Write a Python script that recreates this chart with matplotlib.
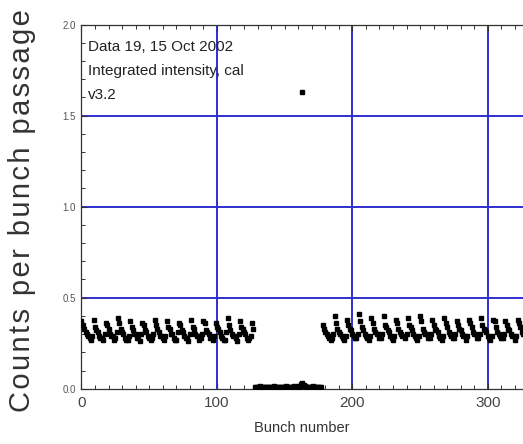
import numpy as np
import matplotlib
matplotlib.use("Agg")
import matplotlib.pyplot as plt
from matplotlib.ticker import MultipleLocator

# ---- data ----
g1_start = 0
g1_values = [
    0.37, 0.35, 0.33, 0.31, 0.30, 0.29, 0.28, 0.27, 0.29,
    0.38, 0.34, 0.32, 0.31, 0.29, 0.28, 0.28, 0.27, 0.30,
    0.36, 0.35, 0.33, 0.30, 0.29, 0.29, 0.27, 0.28, 0.31,
    0.39, 0.36, 0.33, 0.31, 0.30, 0.28, 0.27, 0.27, 0.29,
    0.37, 0.34, 0.32, 0.30, 0.30, 0.28, 0.28, 0.26, 0.30,
    0.36, 0.35, 0.32, 0.31, 0.29, 0.28, 0.27, 0.28, 0.30,
    0.38, 0.35, 0.33, 0.31, 0.29, 0.29, 0.28, 0.27, 0.29,
    0.37, 0.34, 0.33, 0.30, 0.30, 0.28, 0.27, 0.27, 0.31,
    0.36, 0.35, 0.32, 0.31, 0.29, 0.28, 0.28, 0.26, 0.30,
    0.38, 0.34, 0.33, 0.30, 0.29, 0.29, 0.27, 0.28, 0.30,
    0.37, 0.36, 0.32, 0.31, 0.30, 0.28, 0.28, 0.27, 0.29,
    0.36, 0.34, 0.33, 0.31, 0.29, 0.28, 0.27, 0.27, 0.31,
    0.39, 0.35, 0.32, 0.30, 0.29, 0.29, 0.28, 0.26, 0.30,
    0.37, 0.34, 0.33, 0.31, 0.30, 0.28, 0.27, 0.28, 0.29,
    0.36, 0.33,
]

gap_start = 128
gap_values = [
    0.010, 0.012, 0.011, 0.010, 0.013, 0.011, 0.012, 0.010, 0.011, 0.012,
    0.011, 0.010, 0.012, 0.011, 0.013, 0.010, 0.011, 0.012, 0.011, 0.010,
    0.012, 0.011, 0.010, 0.013, 0.012, 0.011, 0.010, 0.012, 0.011, 0.013,
    0.012, 0.011, 0.014, 0.012, 0.025, 0.030, 0.022, 0.013, 0.012, 0.011,
    0.010, 0.012, 0.011, 0.013, 0.010, 0.011, 0.012, 0.011, 0.010, 0.012,
]

g2_start = 178
g2_values = [
    0.35, 0.33, 0.31, 0.30, 0.29, 0.28, 0.27, 0.28, 0.30,
    0.40, 0.36, 0.33, 0.31, 0.30, 0.29, 0.28, 0.27, 0.29,
    0.38, 0.35, 0.33, 0.32, 0.30, 0.29, 0.28, 0.28, 0.30,
    0.41, 0.37, 0.34, 0.32, 0.30, 0.29, 0.28, 0.27, 0.29,
    0.39, 0.36, 0.33, 0.31, 0.30, 0.30, 0.28, 0.28, 0.30,
    0.40, 0.35, 0.34, 0.32, 0.31, 0.29, 0.28, 0.27, 0.29,
    0.38, 0.36, 0.33, 0.31, 0.30, 0.29, 0.29, 0.28, 0.30,
    0.39, 0.35, 0.34, 0.32, 0.30, 0.29, 0.28, 0.27, 0.29,
    0.40, 0.37, 0.33, 0.31, 0.30, 0.30, 0.28, 0.28, 0.30,
    0.38, 0.35, 0.33, 0.32, 0.31, 0.29, 0.28, 0.27, 0.29,
    0.39, 0.36, 0.34, 0.31, 0.30, 0.29, 0.28, 0.28, 0.30,
    0.37, 0.35, 0.33, 0.32, 0.30, 0.29, 0.29, 0.27, 0.29,
    0.38, 0.36, 0.34, 0.31, 0.30, 0.30, 0.28, 0.28, 0.30,
    0.39, 0.35, 0.33, 0.32, 0.31, 0.29, 0.28, 0.27, 0.29,
    0.38, 0.37, 0.34, 0.31, 0.30, 0.29, 0.28, 0.28, 0.30,
    0.37, 0.35, 0.33, 0.32, 0.30, 0.29, 0.29, 0.27, 0.29,
    0.38, 0.36, 0.34, 0.31, 0.30, 0.30, 0.28, 0.28, 0.30,
]

outlier_x = [163]
outlier_y = [1.63]

x_ticks = [0, 100, 200, 300]
y_ticks = [0.0, 0.5, 1.0, 1.5, 2.0]
y_tick_labels = ["0.0", "0.5", "1.0", "1.5", "2.0"]
annotation = "Data 19, 15 Oct 2002\nIntegrated intensity, cal\nv3.2"

# ---- figure ----
plt.rcParams['font.family'] = ['Liberation Sans', 'DejaVu Sans']
fig = plt.figure(figsize=(5.23, 4.44), dpi=100)
ax = fig.add_axes([0.1558, 0.1245, 0.8442, 0.82])

ax.set_xlim(0, 326)
ax.set_ylim(0, 2.0)

grid_color = '#2f2fd0'
for xv in [100, 200, 300]:
    ax.axvline(xv, color=grid_color, lw=1.4, zorder=1)
for yv in [0.5, 1.0, 1.5]:
    ax.axhline(yv, color=grid_color, lw=1.4, zorder=1)

mk = dict(marker='s', markersize=3.0, color='black', linestyle='none', zorder=3)
ax.plot(g1_start + np.arange(len(g1_values)), g1_values, **mk)
ax.plot(gap_start + np.arange(len(gap_values)), gap_values, **mk)
ax.plot(g2_start + np.arange(len(g2_values)), g2_values, **mk)
ax.plot(outlier_x, outlier_y, marker='s', markersize=2.6, color='black',
        linestyle='none', zorder=3)

ax.spines['right'].set_visible(False)
for s in ['left', 'bottom', 'top']:
    ax.spines[s].set_color('#333333')
    ax.spines[s].set_linewidth(0.9)

ax.set_xticks(x_ticks)
ax.set_yticks(y_ticks)
ax.set_yticklabels(y_tick_labels)
ax.xaxis.set_minor_locator(MultipleLocator(10))
ax.yaxis.set_minor_locator(MultipleLocator(0.1))
ax.tick_params(which='both', direction='in', top=True, right=False, color='#333333')
ax.tick_params(which='major', length=4, width=0.8)
ax.tick_params(which='minor', length=3, width=0.7)
ax.tick_params(axis='x', labelsize=11, labelcolor='#444444', pad=5)
ax.tick_params(axis='y', labelsize=7, labelcolor='#555555', pad=4)

ax.set_xlabel("Bunch number", fontsize=10.5, color='#333333', labelpad=8)
ylab = "\u200a".join("Counts per bunch passage")
ax.set_ylabel(ylab, fontsize=21, color='#333333')
ax.yaxis.set_label_coords(-0.102, 0.49)

ax.text(0.015, 0.958, annotation, transform=ax.transAxes, ha='left', va='top',
        fontsize=11, color='#222222', linespacing=1.9)

fig.savefig("out.png", dpi=100)
